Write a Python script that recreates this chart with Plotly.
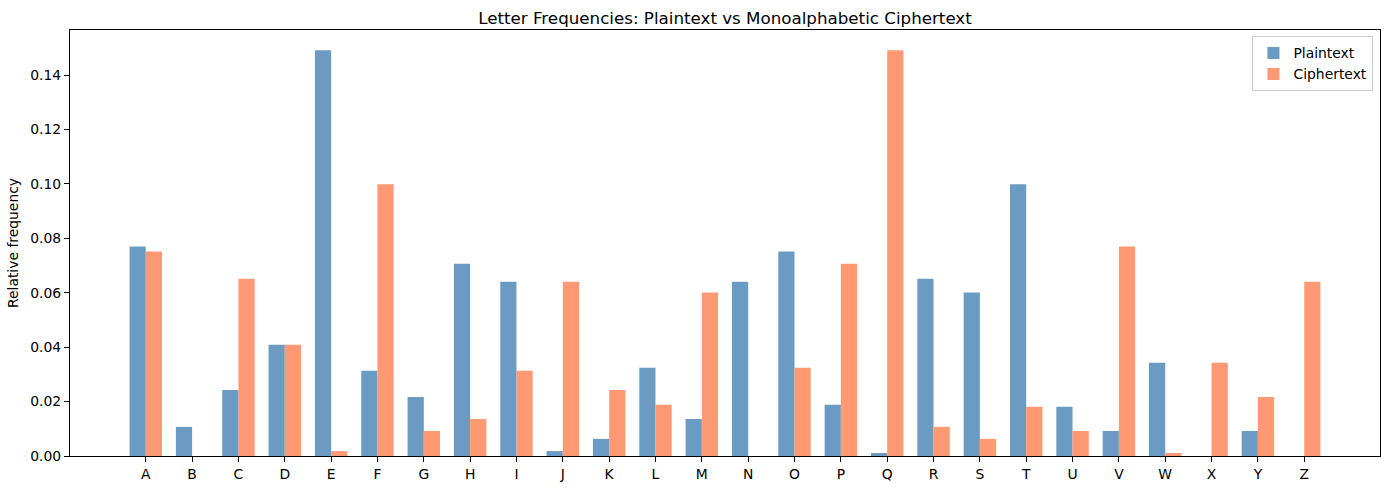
import plotly.graph_objects as go

letters = list("ABCDEFGHIJKLMNOPQRSTUVWXYZ")
plaintext = [0.0770, 0.0107, 0.0243, 0.0409, 0.1492, 0.0313, 0.0217, 0.0707, 0.0641, 0.0018,
             0.0063, 0.0324, 0.0136, 0.0641, 0.0752, 0.0188, 0.0011, 0.0652, 0.0601, 0.0999,
             0.0181, 0.0092, 0.0343, 0.0, 0.0092, 0.0]
ciphertext = [0.0752, 0.0, 0.0652, 0.0409, 0.0018, 0.0999, 0.0092, 0.0136, 0.0313, 0.0641,
              0.0243, 0.0188, 0.0601, 0.0, 0.0324, 0.0707, 0.1492, 0.0107, 0.0063, 0.0181,
              0.0092, 0.0770, 0.0011, 0.0343, 0.0217, 0.0641]
yticks = [0.00, 0.02, 0.04, 0.06, 0.08, 0.10, 0.12, 0.14]

FONT = "DejaVu Sans, sans-serif"

fig = go.Figure()
fig.add_trace(go.Bar(x=letters, y=plaintext, name="Plaintext",
                     marker=dict(color="#6B9BC3", line=dict(width=0))))
fig.add_trace(go.Bar(x=letters, y=ciphertext, name="Ciphertext",
                     marker=dict(color="#FF9973", line=dict(width=0))))

fig.update_layout(
    width=1389, height=490,
    margin=dict(l=70, r=9, t=30, b=34, autoexpand=False),
    plot_bgcolor="white", paper_bgcolor="white",
    font=dict(family=FONT, size=13.9, color="black"),
    barmode="group", bargap=0.3, bargroupgap=0,
    title=dict(text="Letter Frequencies: Plaintext vs Monoalphabetic Ciphertext",
               font=dict(family=FONT, size=16.7, color="black"),
               x=0.5, xref="paper", xanchor="center",
               y=1, yref="paper", yanchor="bottom", pad=dict(b=6)),
    legend=dict(x=0.995, y=0.985, xanchor="right", yanchor="top",
                bgcolor="rgba(255,255,255,0.8)", bordercolor="#CCCCCC", borderwidth=1,
                font=dict(family=FONT, size=13.9), traceorder="normal",
                itemwidth=30),
    showlegend=True,
)
fig.update_xaxes(type="category", range=[-1.635, 26.635],
                 showline=True, linecolor="black", linewidth=1, mirror=True,
                 ticks="outside", ticklen=5, tickcolor="black", showgrid=False,
                 zeroline=False, automargin=False)
fig.update_yaxes(range=[0, 0.1566], tickvals=yticks,
                 ticktext=[f"{v:.2f}" for v in yticks],
                 showline=True, linecolor="black", linewidth=1, mirror=True,
                 ticks="outside", ticklen=5, tickcolor="black", showgrid=False,
                 zeroline=False, automargin=False,
                 title=dict(text="Relative frequency", font=dict(family=FONT, size=13.9), standoff=8))

fig.write_html("out.html", config={"displayModeBar": False},
               post_script="document.body.style.margin='0';document.body.style.overflow='hidden';")
